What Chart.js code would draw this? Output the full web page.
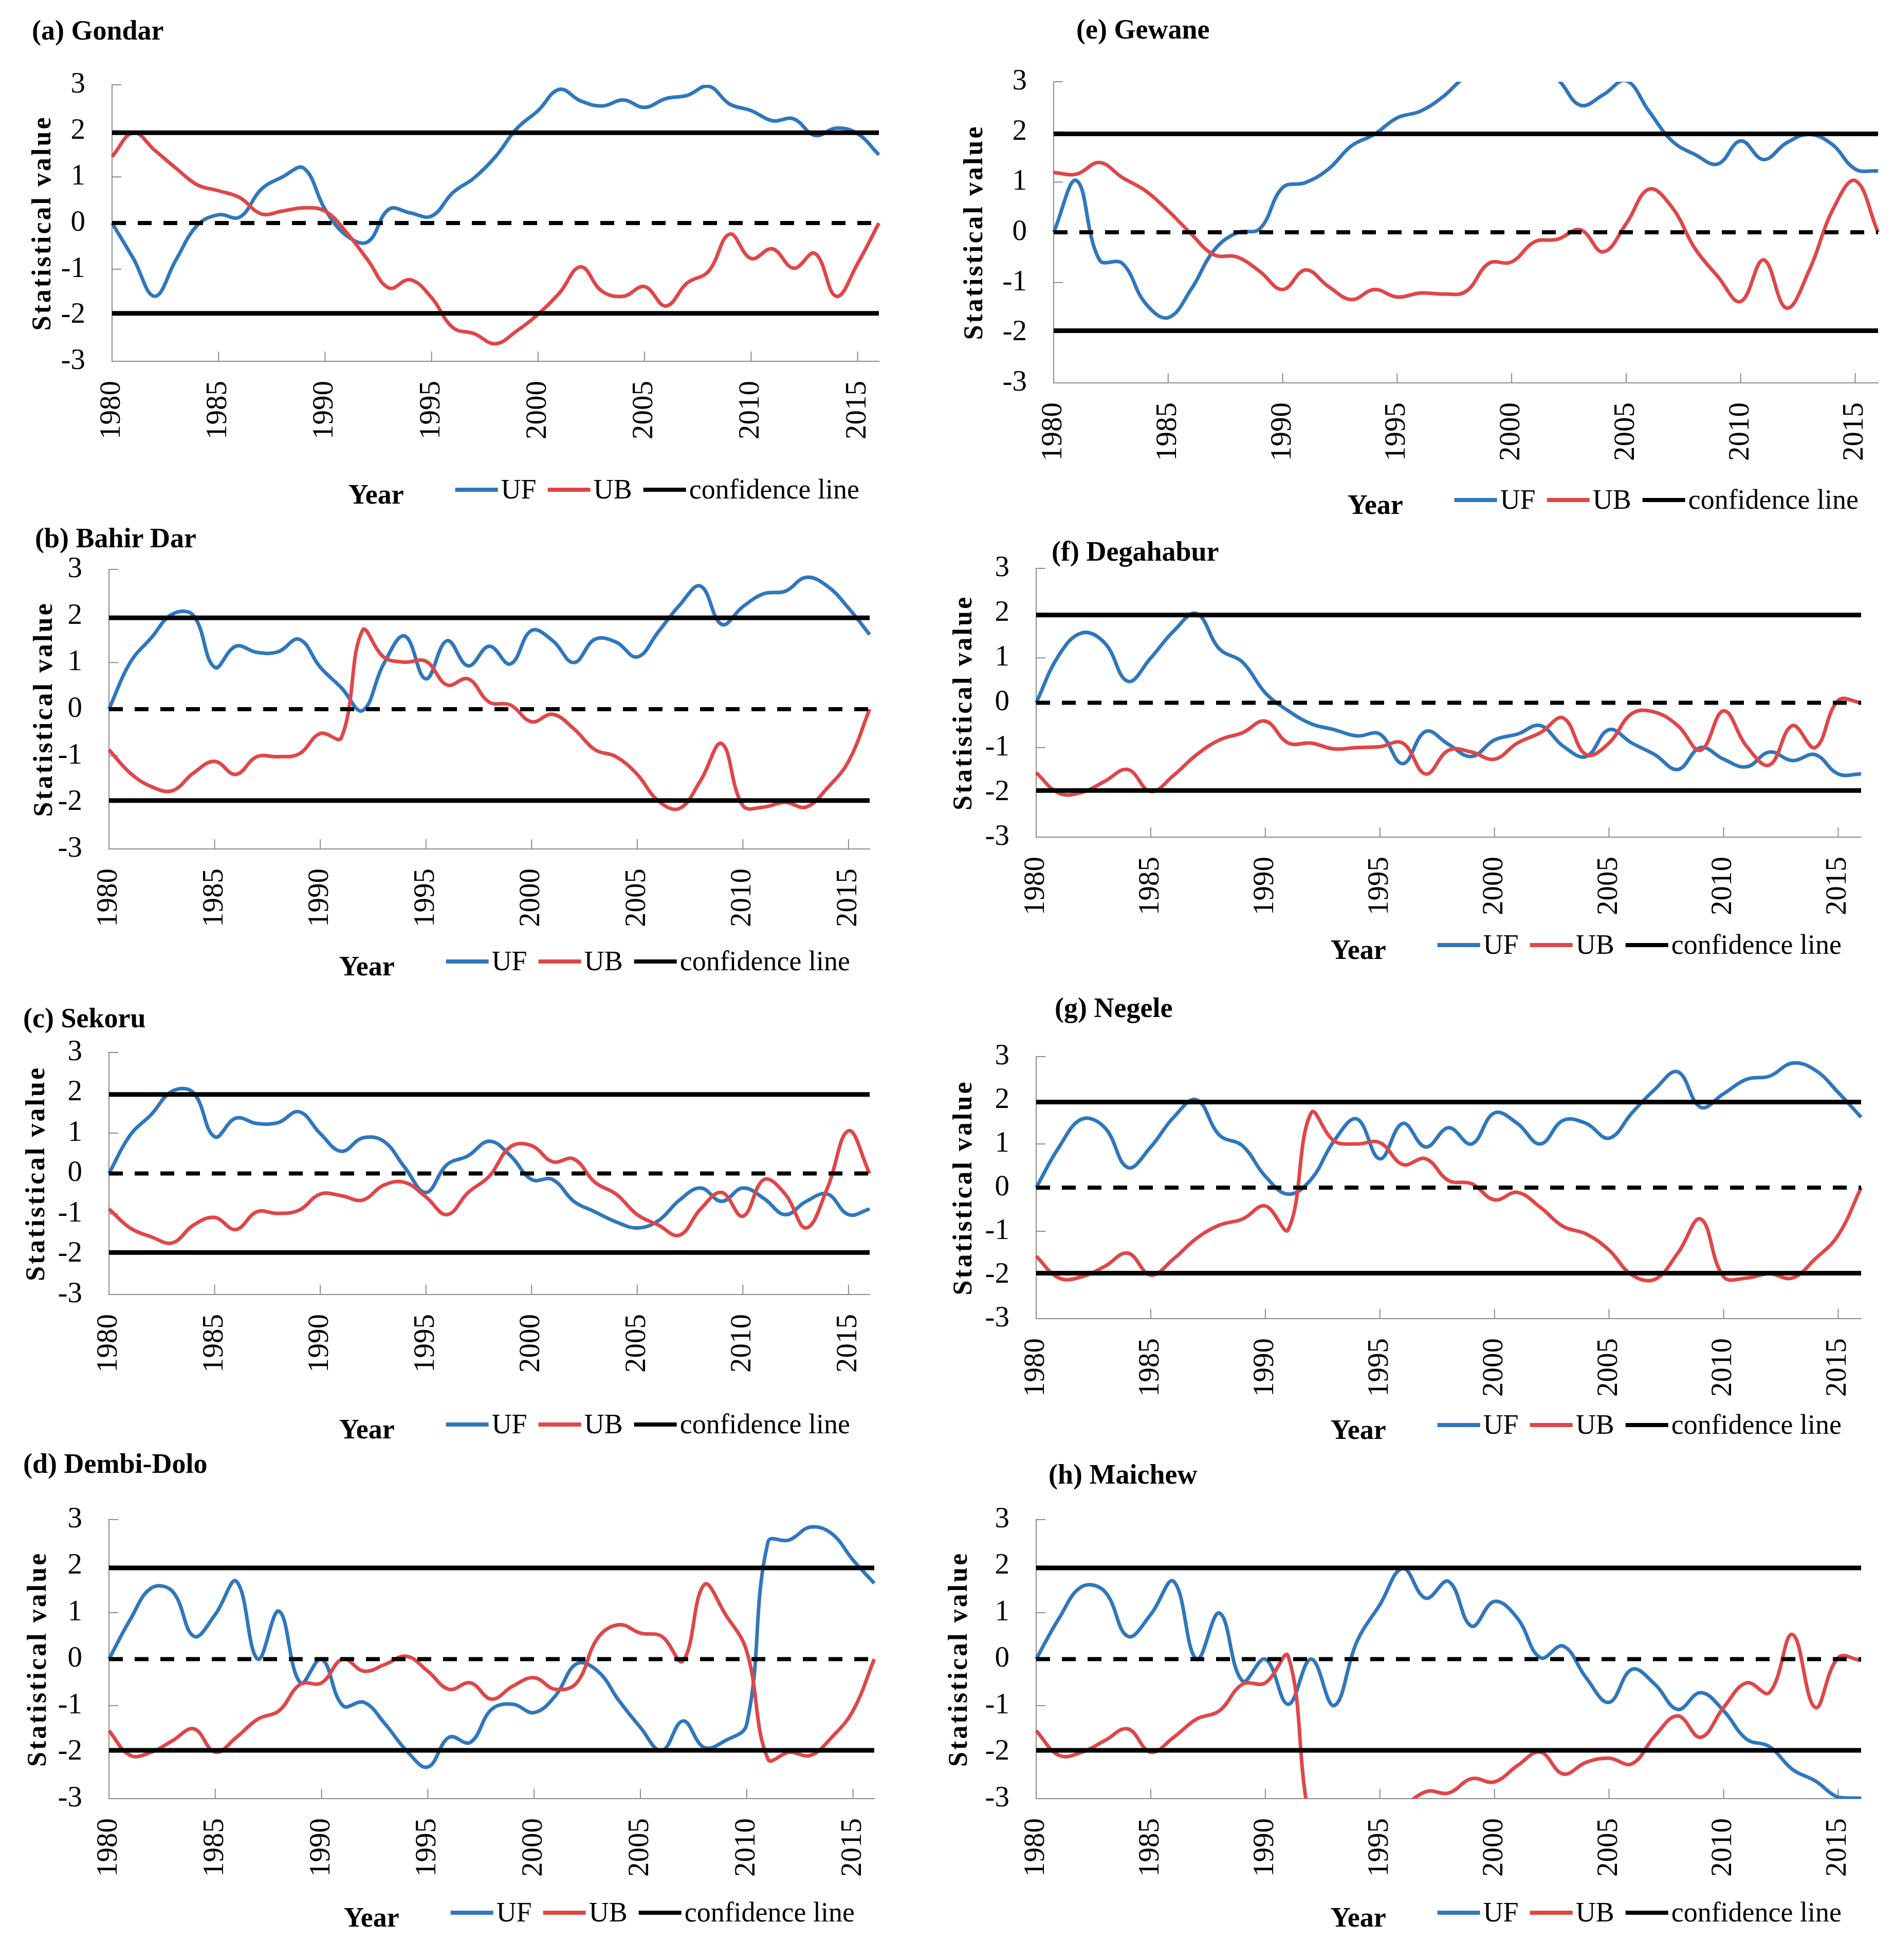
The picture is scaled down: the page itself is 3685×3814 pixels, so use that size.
<!DOCTYPE html>
<html>
<head>
<meta charset="utf-8">
<title>UF / UB statistical values</title>
<script src="https://cdn.jsdelivr.net/npm/chart.js@4.4.1/dist/chart.umd.min.js"></script>
<style>
  html, body { margin: 0; padding: 0; background: #fff; }
  #page { position: relative; width: 3685px; height: 3814px; overflow: hidden; background: #fff; }
  .panel { position: absolute; }
  .panel-title {
    position: absolute;
    font: bold 54px "Liberation Serif", "Times New Roman", serif;
    line-height: 54px;
    white-space: nowrap;
    color: #000;
  }
</style>
</head>
<body>
<div id="page"></div>
<script>
"use strict";

// ---- data ----
const years = [1980, 1981, 1982, 1983, 1984, 1985, 1986, 1987, 1988, 1989,
               1990, 1991, 1992, 1993, 1994, 1995, 1996, 1997, 1998, 1999,
               2000, 2001, 2002, 2003, 2004, 2005, 2006, 2007, 2008, 2009,
               2010, 2011, 2012, 2013, 2014, 2015, 2016];
const xTickYears = [1980, 1985, 1990, 1995, 2000, 2005, 2010, 2015];
const yTickValues = [-3, -2, -1, 0, 1, 2, 3];
const confidence = 1.96;
const seriesNames = ["UF", "UB", "confidence line"];
const xAxisName = "Year";
const yAxisName = "Statistical value";

const gondarUF = [0, -0.77, -1.59, -0.8, -0.05, 0.18, 0.13, 0.73, 1.0, 1.19,
                  0.3, -0.27, -0.41, 0.3, 0.22, 0.15, 0.66, 0.98, 1.44, 2.05,
                  2.44, 2.9, 2.65, 2.54, 2.67, 2.51, 2.7, 2.77, 2.97, 2.58,
                  2.44, 2.22, 2.26, 1.9, 2.06, 1.94, 1.48];
const gondarUB = [1.44, 1.96, 1.58, 1.19, 0.83, 0.7, 0.55, 0.2, 0.26, 0.33,
                  0.26, -0.2, -0.8, -1.41, -1.23, -1.62, -2.27, -2.4, -2.62, -2.34,
                  -1.98, -1.52, -0.95, -1.48, -1.59, -1.38, -1.8, -1.3, -1.05, -0.24,
                  -0.77, -0.56, -0.98, -0.66, -1.59, -0.88, 0];

const bahirDarUF = [0, 1.0, 1.53, 2.04, 2.01, 0.9, 1.35, 1.22, 1.23, 1.5,
                    0.9, 0.46, -0.03, 0.97, 1.57, 0.65, 1.47, 0.93, 1.35, 0.97,
                    1.69, 1.47, 1.0, 1.5, 1.44, 1.12, 1.66, 2.23, 2.64, 1.82,
                    2.2, 2.48, 2.53, 2.83, 2.64, 2.17, 1.6];
const bahirDarUB = [-0.87, -1.37, -1.66, -1.75, -1.37, -1.12, -1.4, -1.02, -1.02, -0.96,
                    -0.52, -0.61, 1.69, 1.12, 1.01, 1.03, 0.52, 0.65, 0.15, 0.09,
                    -0.27, -0.11, -0.42, -0.87, -1.02, -1.4, -1.97, -2.13, -1.53, -0.74,
                    -2.07, -2.1, -2.0, -2.1, -1.69, -1.12, 0];

const sekoruUF = [0, 0.95, 1.46, 2.04, 2.0, 0.91, 1.37, 1.24, 1.26, 1.53,
                  0.99, 0.55, 0.88, 0.8, 0.15, -0.47, 0.22, 0.44, 0.8, 0.44,
                  -0.15, -0.15, -0.69, -0.95, -1.2, -1.35, -1.17, -0.66, -0.36, -0.69,
                  -0.36, -0.62, -1.02, -0.69, -0.51, -1.02, -0.88];
const sekoruUB = [-0.88, -1.35, -1.57, -1.72, -1.28, -1.09, -1.39, -0.95, -0.99, -0.91,
                  -0.51, -0.55, -0.66, -0.29, -0.22, -0.58, -1.02, -0.47, -0.07, 0.66,
                  0.69, 0.29, 0.36, -0.22, -0.51, -1.02, -1.28, -1.53, -0.88, -0.47,
                  -1.06, -0.15, -0.51, -1.35, -0.36, 1.06, 0];

const dembiDoloUF = [0, 0.85, 1.53, 1.45, 0.49, 0.96, 1.67, 0, 1.03, -0.51,
                     0, -1.0, -0.93, -1.4, -1.97, -2.32, -1.68, -1.79, -1.08, -0.97,
                     -1.15, -0.79, -0.1, -0.26, -0.9, -1.47, -1.97, -1.33, -1.9, -1.75,
                     -1.4, 2.52, 2.56, 2.84, 2.7, 2.13, 1.63];
const dembiDoloUB = [-1.54, -2.07, -2.0, -1.75, -1.5, -2.0, -1.68, -1.29, -1.11, -0.54,
                     -0.51, 0, -0.26, -0.11, 0.06, -0.26, -0.65, -0.51, -0.86, -0.58,
                     -0.4, -0.65, -0.51, 0.46, 0.74, 0.56, 0.49, -0.04, 1.6, 0.96,
                     0.17, -2.15, -2.0, -2.07, -1.68, -1.11, 0];

const gewaneUF = [0, 1.03, -0.55, -0.62, -1.41, -1.7, -1.14, -0.36, -0.01, 0.07,
                  0.89, 0.99, 1.26, 1.72, 1.95, 2.28, 2.41, 2.7, 3.1, 3.25,
                  3.2, 3.3, 3.05, 2.53, 2.74, 3.02, 2.41, 1.82, 1.55, 1.36,
                  1.82, 1.45, 1.78, 1.95, 1.75, 1.26, 1.22];
const gewaneUB = [1.19, 1.16, 1.39, 1.09, 0.83, 0.43, -0.03, -0.45, -0.49, -0.78,
                  -1.14, -0.75, -1.08, -1.34, -1.14, -1.29, -1.21, -1.23, -1.18, -0.62,
                  -0.59, -0.19, -0.14, 0.05, -0.39, 0.17, 0.86, 0.5, -0.32, -0.88,
                  -1.38, -0.55, -1.51, -0.75, 0.43, 1.03, 0];

const degahaburUF = [0, 1.07, 1.56, 1.33, 0.48, 1.0, 1.6, 1.99, 1.2, 0.91,
                     0.22, -0.18, -0.47, -0.6, -0.74, -0.7, -1.36, -0.64, -0.93, -1.2,
                     -0.83, -0.7, -0.51, -0.97, -1.2, -0.6, -0.9, -1.16, -1.49, -1.0,
                     -1.26, -1.43, -1.1, -1.29, -1.16, -1.59, -1.59];
const degahaburUB = [-1.56, -2.02, -2.0, -1.75, -1.49, -1.98, -1.62, -1.16, -0.83, -0.67,
                     -0.41, -0.9, -0.9, -1.03, -1.0, -0.98, -0.9, -1.59, -1.06, -1.1,
                     -1.26, -0.9, -0.67, -0.34, -1.16, -0.9, -0.24, -0.21, -0.51, -1.06,
                     -0.18, -0.97, -1.39, -0.51, -1.0, 0.05, 0];

const negeleUF = [0, 0.93, 1.57, 1.37, 0.46, 0.93, 1.61, 2.01, 1.2, 0.96,
                  0.26, -0.15, 0.19, 1.07, 1.57, 0.66, 1.47, 0.93, 1.37, 1.0,
                  1.71, 1.47, 1.0, 1.54, 1.47, 1.13, 1.71, 2.25, 2.65, 1.84,
                  2.15, 2.48, 2.55, 2.85, 2.69, 2.18, 1.61];
const negeleUB = [-1.57, -2.07, -2.04, -1.8, -1.5, -2.0, -1.63, -1.16, -0.86, -0.72,
                  -0.42, -0.96, 1.71, 1.07, 1.0, 1.03, 0.53, 0.66, 0.16, 0.09,
                  -0.28, -0.11, -0.45, -0.89, -1.06, -1.43, -2.0, -2.1, -1.5, -0.72,
                  -2.04, -2.07, -1.97, -2.07, -1.63, -1.09, 0];

const maichewUF = [0, 0.88, 1.56, 1.45, 0.49, 0.96, 1.67, 0, 0.99, -0.47,
                   0, -0.97, 0, -1.0, 0.38, 1.17, 1.95, 1.31, 1.67, 0.71,
                   1.24, 0.88, 0.03, 0.28, -0.4, -0.93, -0.22, -0.54, -1.08, -0.72,
                   -1.11, -1.72, -1.88, -2.37, -2.62, -2.97, -2.99];
const maichewUB = [-1.54, -2.07, -2.0, -1.75, -1.5, -2.0, -1.68, -1.29, -1.11, -0.54,
                   -0.51, 0.06, -3.6, -4.2, -4.4, -4.0, -3.25, -2.85, -2.88, -2.57,
                   -2.64, -2.29, -2.0, -2.47, -2.22, -2.13, -2.25, -1.65, -1.22, -1.68,
                   -1.04, -0.51, -0.72, 0.53, -1.04, 0.03, -0.03];

const panelTitles = ["(a) Gondar", "(b) Bahir Dar", "(c) Sekoru", "(d) Dembi-Dolo",
                     "(e) Gewane", "(f) Degahabur", "(g) Negele", "(h) Maichew"];
const panelUF = [gondarUF, bahirDarUF, sekoruUF, dembiDoloUF, gewaneUF, degahaburUF, negeleUF, maichewUF];
const panelUB = [gondarUB, bahirDarUB, sekoruUB, dembiDoloUB, gewaneUB, degahaburUB, negeleUB, maichewUB];

// ---- layout (page pixels) ----
const layout = [
  { plotL: 218,  plotR: 1710, plotT: 165,  plotB: 703,  yTitleX: 85,   titleX: 62,   titleY: 61,   legendBase: 267 },
  { plotL: 212,  plotR: 1692, plotT: 1108, plotB: 1652, yTitleX: 88,   titleX: 68,   titleY: 1049, legendBase: 236 },
  { plotL: 212,  plotR: 1692, plotT: 2048, plotB: 2519, yTitleX: 73,   titleX: 45,   titleY: 1983, legendBase: 270 },
  { plotL: 212,  plotR: 1701, plotT: 2957, plotB: 3500, yTitleX: 76,   titleX: 45,   titleY: 2850, legendBase: 239 },
  { plotL: 2050, plotR: 3654, plotT: 159,  plotB: 745,  yTitleX: 1898, titleX: 2094, titleY: 59,   legendBase: 245 },
  { plotL: 2016, plotR: 3621, plotT: 1106, plotB: 1629, yTitleX: 1877, titleX: 2046, titleY: 1075, legendBase: 227 },
  { plotL: 2016, plotR: 3621, plotT: 2056, plotB: 2566, yTitleX: 1877, titleX: 2052, titleY: 1963, legendBase: 224 },
  { plotL: 2016, plotR: 3621, plotT: 2957, plotB: 3500, yTitleX: 1868, titleX: 2040, titleY: 2871, legendBase: 239 },
];

const padTop = 100;
const padRight = 90;
const padBottom = 130;
const xAxisH = 180;
const yTitleInset = 30;

const ufColor = "#2f77bd";
const ubColor = "#e04648";
const axisColor = "#8c8c8c";
const serif = '"Liberation Serif", "Times New Roman", serif';

// inward tick marks, like the original spreadsheet chart
const insideTicks = {
  id: "insideTicks",
  beforeDatasetsDraw(chart) {
    const { ctx, chartArea, scales } = chart;
    ctx.save();
    ctx.strokeStyle = axisColor;
    ctx.lineWidth = 2;
    ctx.beginPath();
    for (const v of yTickValues) {
      const py = scales.y.getPixelForValue(v);
      ctx.moveTo(chartArea.left, py);
      ctx.lineTo(chartArea.left + 18, py);
    }
    for (const v of xTickYears) {
      const px = scales.x.getPixelForValue(v);
      ctx.moveTo(px, chartArea.bottom);
      ctx.lineTo(px, chartArea.bottom - 19);
    }
    ctx.stroke();
    ctx.restore();
  }
};

// letter-spaced bold y caption
const yCaption = {
  id: "yCaption",
  afterDraw(chart) {
    const { ctx, scales } = chart;
    const yScale = scales.y;
    ctx.save();
    ctx.translate(yScale.left + yTitleInset, (yScale.top + yScale.bottom) / 2);
    ctx.rotate(-Math.PI / 2);
    ctx.font = "bold 52px " + serif;
    if ("letterSpacing" in ctx) ctx.letterSpacing = "4px";
    ctx.fillStyle = "#000";
    ctx.textAlign = "center";
    ctx.textBaseline = "middle";
    ctx.fillText(yAxisName, 0, 0);
    ctx.restore();
  }
};

// one-row legend with the "Year" caption on its left
const legendRow = {
  id: "legendRow",
  afterDraw(chart, args, opts) {
    const { ctx, chartArea } = chart;
    const items = chart.data.datasets.filter(d => d.inLegend);
    const swatchLen = 83, swatchGap = 6, itemGap = 22;
    const base = chartArea.bottom + opts.baseline;
    ctx.save();
    ctx.font = "54px " + serif;
    const widths = items.map(d => ctx.measureText(d.label).width);
    let total = (items.length - 1) * itemGap;
    widths.forEach(w => { total += w + swatchLen + swatchGap; });
    let xPos = chartArea.right - 38 - total;
    const legendLeft = xPos;
    items.forEach((d, i) => {
      ctx.strokeStyle = d.borderColor;
      ctx.lineWidth = 8;
      ctx.lineCap = "butt";
      ctx.beginPath();
      ctx.moveTo(xPos, base - 17);
      ctx.lineTo(xPos + swatchLen, base - 17);
      ctx.stroke();
      xPos += swatchLen + swatchGap;
      ctx.fillStyle = "#000";
      ctx.textAlign = "left";
      ctx.textBaseline = "alphabetic";
      ctx.fillText(d.label, xPos, base);
      xPos += widths[i] + itemGap;
    });
    ctx.font = "bold 54px " + serif;
    ctx.textAlign = "right";
    ctx.fillText(xAxisName, legendLeft - 100, base + 10);
    ctx.restore();
  }
};

function seriesPoints(values) {
  return years.map((yr, i) => ({ x: yr, y: values[i] }));
}

function flatLine(v) {
  return [{ x: years[0], y: v }, { x: years[years.length - 1], y: v }];
}

function createPanel(i) {
  const g = layout[i];
  const page = document.getElementById("page");

  const title = document.createElement("div");
  title.className = "panel-title";
  title.textContent = panelTitles[i];
  title.style.left = g.titleX + "px";
  title.style.top = (g.titleY - 29) + "px";
  page.appendChild(title);

  const yAxisW = yTitleInset + g.plotL - g.yTitleX;
  const box = document.createElement("div");
  box.className = "panel";
  box.style.left = (g.plotL - yAxisW) + "px";
  box.style.top = (g.plotT - padTop) + "px";
  box.style.width = (yAxisW + g.plotR - g.plotL + padRight) + "px";
  box.style.height = (padTop + g.plotB - g.plotT + xAxisH + padBottom) + "px";
  const canvas = document.createElement("canvas");
  box.appendChild(canvas);
  page.appendChild(box);

  const lineClip = { left: 5, right: 5, top: 0, bottom: 0 };

  new Chart(canvas.getContext("2d"), {
    type: "line",
    data: {
      datasets: [
        {
          label: seriesNames[0],
          data: seriesPoints(panelUF[i]),
          borderColor: ufColor,
          borderWidth: 7,
          tension: 0.4,
          pointRadius: 0,
          clip: lineClip,
          order: 4,
          inLegend: true,
        },
        {
          label: seriesNames[1],
          data: seriesPoints(panelUB[i]),
          borderColor: ubColor,
          borderWidth: 7,
          tension: 0.4,
          pointRadius: 0,
          clip: lineClip,
          order: 3,
          inLegend: true,
        },
        {
          label: seriesNames[2],
          data: flatLine(confidence),
          borderColor: "#000",
          borderWidth: 9,
          pointRadius: 0,
          order: 1,
          inLegend: true,
        },
        {
          label: "lower confidence",
          data: flatLine(-confidence),
          borderColor: "#000",
          borderWidth: 9,
          pointRadius: 0,
          order: 1,
        },
        {
          label: "zero",
          data: flatLine(0),
          borderColor: "#000",
          borderWidth: 8,
          borderDash: [27, 23],
          pointRadius: 0,
          order: 2,
        },
      ],
    },
    options: {
      responsive: true,
      maintainAspectRatio: false,
      devicePixelRatio: 1,
      animation: false,
      layout: { padding: { top: padTop, right: padRight, bottom: padBottom, left: 0 } },
      plugins: {
        legend: { display: false },
        tooltip: { enabled: false },
        legendRow: { baseline: g.legendBase },
      },
      scales: {
        x: {
          type: "linear",
          min: years[0],
          max: years[years.length - 1],
          afterBuildTicks: s => { s.ticks = xTickYears.map(v => ({ value: v })); },
          afterFit: s => { s.height = xAxisH; },
          grid: { display: false, drawTicks: false },
          border: { display: true, color: axisColor, width: 2 },
          ticks: {
            autoSkip: false,
            minRotation: 90,
            maxRotation: 90,
            padding: 38,
            color: "#000",
            font: { family: serif, size: 57 },
            callback: v => String(v),
          },
        },
        y: {
          min: yTickValues[0],
          max: yTickValues[yTickValues.length - 1],
          afterBuildTicks: s => { s.ticks = yTickValues.map(v => ({ value: v })); },
          afterFit: s => { s.width = yAxisW; },
          grid: { display: false, drawTicks: false },
          border: { display: true, color: axisColor, width: 2 },
          ticks: {
            padding: 52,
            color: "#000",
            font: { family: serif, size: 57 },
            callback: v => String(v),
          },
          title: { display: false },
        },
      },
    },
    plugins: [insideTicks, yCaption, legendRow],
  });
}

function setUp() {
  for (let i = 0; i < panelTitles.length; i++) {
    createPanel(i);
  }
}

document.addEventListener("DOMContentLoaded", setUp);
</script>
</body>
</html>
